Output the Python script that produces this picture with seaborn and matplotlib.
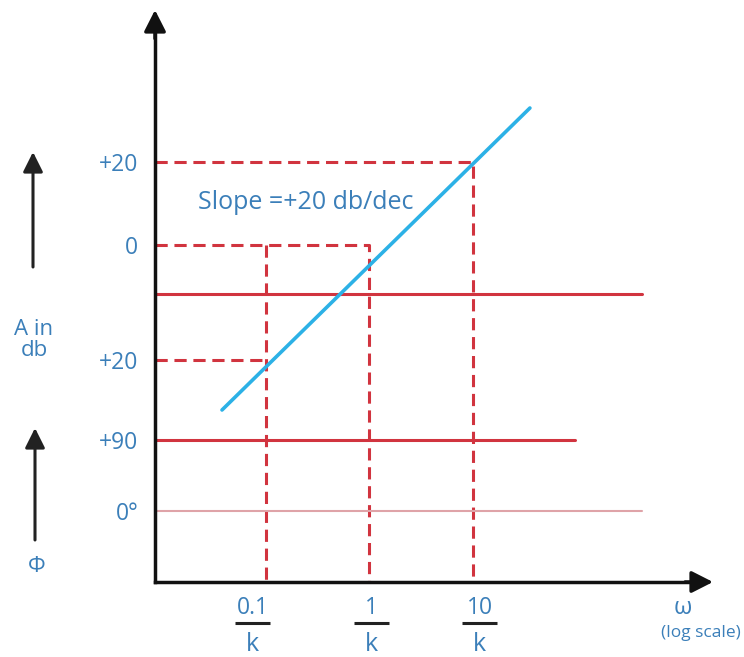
import matplotlib
matplotlib.use("Agg")
import numpy as np
import pandas as pd
import matplotlib.pyplot as plt
from matplotlib.transforms import offset_copy
import seaborn as sns

sns.set_style("white")
plt.rcParams["font.family"] = ["Open Sans", "DejaVu Sans"]

# --- data (omega on log scale, k = 1; levels in diagram units) ---
omega_ticks = [0.1, 1, 10]
omega_nums = ["0.1", "1", "10"]
level_pos = [420, 337, 222, 142, 71]
level_labels = ["+20", "0", "+20", "+90", "0°"]

slope_omega = [0.0376, 35.5]
slope_level = [172, 474]

mag_level, mag_end = 288, 430
phase90_level, phase90_end = 142, 97
phase0_level, phase0_end = 71, 430

# dashed guides: (omega at corner, level)
guide_omega = [10, 1, 0.1]
guide_level = [420, 337, 337]
low_guide_omega, low_guide_level = 0.1, 222

RED = "#d1343f"
BLUE = "#2cb1e6"
TXT = "#3b7fb9"

fig = plt.figure(figsize=(7.44, 6.57), dpi=100)
ax = fig.add_axes([155 / 744, 75 / 657, 558 / 744, 572 / 657])
ax.set_xscale("log")
xmin, xmax = 10 ** -2.072, 10 ** 3.319
ax.set_xlim(xmin, xmax)
ax.set_ylim(0, 572)
ax.xaxis.set_minor_locator(matplotlib.ticker.NullLocator())

dash = dict(color=RED, lw=2.2, dashes=(4, 2.2), dash_capstyle="butt")
for w, lv in zip(guide_omega, guide_level):
    if w == 0.1:
        ax.plot([w, w], [lv, 0], **dash)
    else:
        ax.plot([xmin, w, w], [lv, lv, 0], **dash)
ax.plot([xmin, low_guide_omega], [low_guide_level, low_guide_level], **dash)

ax.plot([xmin, mag_end], [mag_level, mag_level], color=RED, lw=2.2)
ax.plot([xmin, phase90_end], [phase90_level, phase90_level], color=RED, lw=2.2)
ax.plot([xmin, phase0_end], [phase0_level, phase0_level], color="#dfa3a8", lw=1.5)

df = pd.DataFrame({"omega": slope_omega, "level": slope_level})
sns.lineplot(data=df, x="omega", y="level", ax=ax, color=BLUE, lw=2.6)
ax.set_xlabel("")
ax.set_ylabel("")

ax.text(0.022, 380, "Slope =+20 db/dec", color=TXT, fontsize=18, va="center")

# axes / ticks
for s in ["top", "right"]:
    ax.spines[s].set_visible(False)
for s in ["left", "bottom"]:
    ax.spines[s].set_color("#111")
    ax.spines[s].set_linewidth(2.5)
    ax.spines[s].set_zorder(5)
ax.spines["left"].set_bounds(0, 560)
ax.spines["bottom"].set_bounds(xmin, 10 ** 3.2)

ax.set_yticks(level_pos)
ax.set_yticklabels(level_labels, color=TXT, fontsize=16.5)
ax.tick_params(axis="y", length=0, pad=12)
ax.set_xticks(omega_ticks)
ax.set_xticklabels([""] * 3)
ax.tick_params(axis="x", length=0)

head = dict(arrowstyle="-|>,head_length=0.65,head_width=0.33", color="#111",
            lw=2.5, mutation_scale=20, shrinkA=0, shrinkB=0)
ax.annotate("", xy=(0, 1), xytext=(0, 0.95), xycoords="axes fraction", arrowprops=head)
ax.annotate("", xy=(1, 0), xytext=(0.95, 0), xycoords="axes fraction", arrowprops=head)

# fraction labels under x axis
for w, num, dx in zip(omega_ticks, omega_nums, [-9.4, 1.4, 5.0]):
    ax.annotate(num, xy=(w, 0), xycoords=("data", "axes fraction"),
                xytext=(dx, -18.5), textcoords="offset points",
                ha="center", va="center", color=TXT, fontsize=16.5)
    ax.annotate("k", xy=(w, 0), xycoords=("data", "axes fraction"),
                xytext=(dx, -45), textcoords="offset points",
                ha="center", va="center", color=TXT, fontsize=18)
    tr = offset_copy(ax.get_xaxis_transform(), fig=fig, x=dx, y=-29.5, units="points")
    half = 17.5 / 103.5
    ax.plot([w * 10 ** -half, w * 10 ** half], [0, 0], transform=tr,
            color="#222", lw=2.2, clip_on=False, solid_capstyle="butt")

# outer labels and arrows
fig.text(683 / 744, 1 - 608 / 657, "ω", color=TXT, fontsize=17, ha="center", va="center")
fig.text(741 / 744, 1 - 633 / 657, "(log scale)", color=TXT, fontsize=12.5, ha="right", va="center")
fig.text(34 / 744, 1 - 340 / 657, "A in\ndb", color=TXT, fontsize=16,
         ha="center", va="center", linespacing=1.05)
fig.text(37 / 744, 1 - 567 / 657, "Φ", color=TXT, fontsize=16, ha="center", va="center")

side = dict(arrowstyle="-|>,head_length=0.6,head_width=0.3", color="#222",
            lw=2.2, mutation_scale=20, shrinkA=0, shrinkB=0)
ax.annotate("", xy=(33 / 744, 1 - 152 / 657), xytext=(33 / 744, 1 - 267 / 657),
            xycoords="figure fraction", arrowprops=side)
ax.annotate("", xy=(35 / 744, 1 - 428 / 657), xytext=(35 / 744, 1 - 540 / 657),
            xycoords="figure fraction", arrowprops=side)

fig.savefig("out.png", dpi=100)
